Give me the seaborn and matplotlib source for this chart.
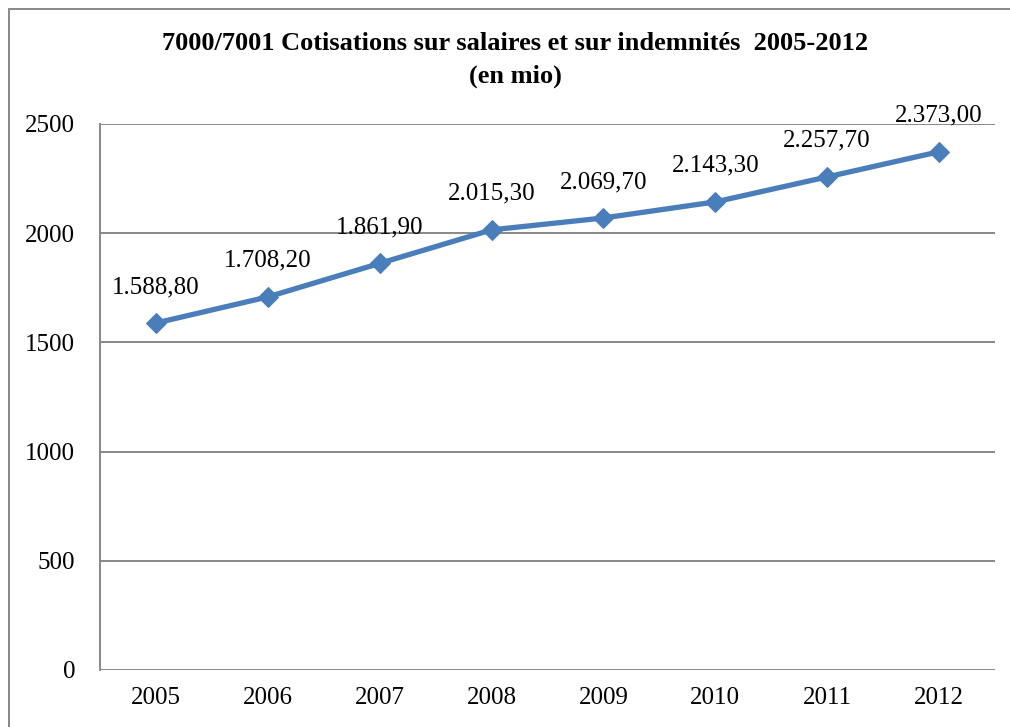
import numpy as np
import pandas as pd
import seaborn as sns
import matplotlib.pyplot as plt
from matplotlib.patches import Rectangle

# data
years = ['2005', '2006', '2007', '2008', '2009', '2010', '2011', '2012']
values = [1588.8, 1708.2, 1861.9, 2015.3, 2069.7, 2143.3, 2257.7, 2373.0]
labels = ['1.588,80', '1.708,20', '1.861,90', '2.015,30', '2.069,70', '2.143,30', '2.257,70', '2.373,00']
yticks = [0, 500, 1000, 1500, 2000, 2500]

sns.set_style('white')
plt.rcParams['font.family'] = ['Liberation Serif', 'DejaVu Serif']
plt.rcParams['text.color'] = 'black'
plt.rcParams['xtick.color'] = 'black'
plt.rcParams['ytick.color'] = 'black'

df = pd.DataFrame({'year': years, 'value': values})

W, H = 1010, 727
fig = plt.figure(figsize=(W / 100, H / 100), dpi=100)
ax = fig.add_axes([100 / W, 1 - 670 / H, 895 / W, 546 / H])

sns.lineplot(data=df, x='year', y='value', ax=ax, color='#4A7EBB', linewidth=3.8,
             marker='D', markersize=10, markeredgecolor='#4A7EBB', sort=False)

for i, (v, lab) in enumerate(zip(values, labels)):
    ax.annotate(lab, (i, v), xytext=(0, 18), textcoords='offset points',
                ha='center', va='bottom', fontsize=18)

ax.set_xlim(-0.5, 7.5)
ax.set_ylim(0, 2500)
ax.set_yticks(yticks)
ax.yaxis.grid(True, color='#888888', linewidth=1.4)
ax.set_axisbelow(True)
ax.tick_params(axis='both', length=0, labelsize=18)
ax.tick_params(axis='y', pad=18)
ax.tick_params(axis='x', pad=12)
ax.set_xlabel('')
ax.set_ylabel('')
for s in ['top', 'right', 'bottom']:
    ax.spines[s].set_visible(False)
ax.spines['left'].set_color('#888888')
ax.spines['left'].set_linewidth(1.4)

fig.text(515 / W, 1 - 44 / H, '7000/7001 Cotisations sur salaires et sur indemnités  2005-2012',
         ha='center', va='center', fontsize=19, fontweight='bold')
fig.text(515 / W, 1 - 76 / H, '(en mio)', ha='center', va='center', fontsize=19, fontweight='bold')

# outer chart frame
fig.patches.append(Rectangle((9 / W, -0.1), 1.2, 1 - 9 / H + 0.1, transform=fig.transFigure,
                             fill=False, edgecolor='#888888', linewidth=1.4))

fig.savefig('out.png', dpi=100)
